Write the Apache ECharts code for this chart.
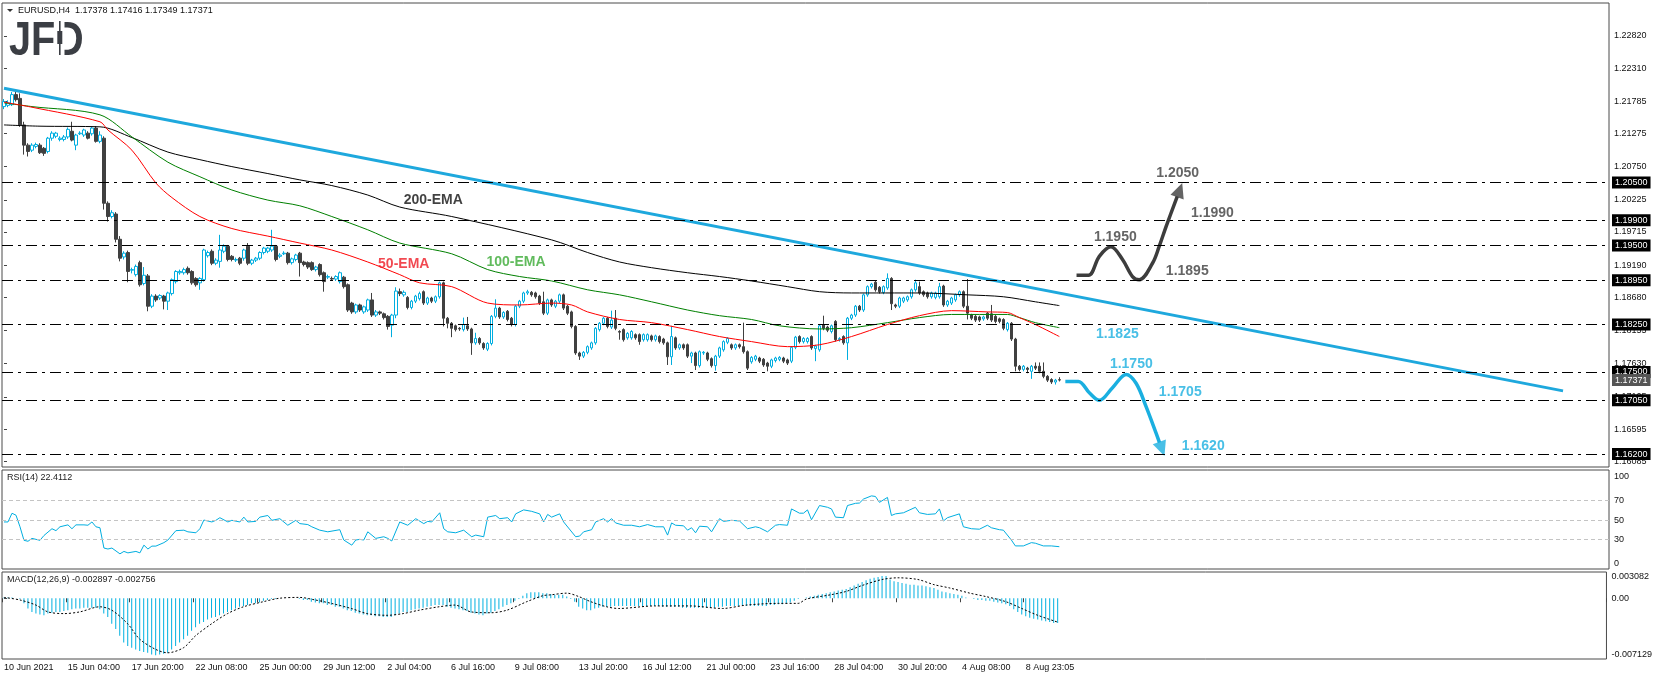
<!DOCTYPE html>
<html>
<head>
<meta charset="utf-8">
<title>EURUSD H4</title>
<script src="https://cdn.jsdelivr.net/npm/echarts@6/dist/echarts.min.js"></script>
<style>
html, body { margin: 0; padding: 0; background: #fff; }
#chart { width: 1655px; height: 680px; }
</style>
</head>
<body>
<div id="chart"></div>
<script>
// time axis: one slot per H4 bar, a date label every 16 bars
var slots = 402
var labelEvery = 16
var timeLabels = ["10 Jun 2021", "15 Jun 04:00", "17 Jun 20:00", "22 Jun 08:00", "25 Jun 00:00", "29 Jun 12:00",
  "2 Jul 04:00", "6 Jul 16:00", "9 Jul 08:00", "13 Jul 20:00", "16 Jul 12:00", "21 Jul 00:00",
  "23 Jul 16:00", "28 Jul 04:00", "30 Jul 20:00", "4 Aug 08:00", "8 Aug 23:05"]

var priceTicks = [1.2282, 1.2231, 1.21785, 1.21275, 1.2075, 1.20225, 1.19715, 1.1919, 1.1868, 1.18155, 1.1763, 1.17105, 1.16595, 1.16085]
var levels = [1.205, 1.199, 1.195, 1.1895, 1.1825, 1.175, 1.1705, 1.162]
var lastPrice = 1.17371

// [open, close, low, high]
var candles = [
  [1.2170,1.2178,1.2166,1.2182],[1.2172,1.2176,1.2169,1.2180],[1.2173,1.2189,1.2171,1.2193],[1.2189,1.2181,1.2178,1.2195],[1.2183,1.2141,1.2138,1.2191],
  [1.2141,1.2109,1.2094,1.2146],[1.2109,1.2099,1.2091,1.2112],[1.2101,1.2109,1.2098,1.2112],[1.2107,1.2110,1.2104,1.2113],[1.2109,1.2097,1.2095,1.2112],
  [1.2104,1.2096,1.2092,1.2106],[1.2099,1.2120,1.2096,1.2122],[1.2120,1.2128,1.2116,1.2131],[1.2123,1.2128,1.2120,1.2130],[1.2118,1.2120,1.2115,1.2123],
  [1.2118,1.2122,1.2115,1.2125],[1.2122,1.2134,1.2119,1.2137],[1.2131,1.2117,1.2115,1.2146],[1.2109,1.2125,1.2101,1.2127],[1.2127,1.2128,1.2125,1.2131],
  [1.2125,1.2133,1.2122,1.2135],[1.2128,1.2120,1.2118,1.2131],[1.2127,1.2136,1.2124,1.2138],[1.2136,1.2115,1.2113,1.2139],[1.2115,1.2125,1.2112,1.2131],
  [1.2120,1.2017,1.2007,1.2123],[1.2017,1.1996,1.1988,1.2020],[1.1996,1.2002,1.1993,1.2006],[1.2000,1.1960,1.1955,1.2003],[1.1960,1.1930,1.1925,1.1965],
  [1.1932,1.1938,1.1928,1.1941],[1.1939,1.1909,1.1892,1.1942],[1.1911,1.1912,1.1906,1.1915],[1.1904,1.1917,1.1901,1.1920],[1.1923,1.1888,1.1885,1.1926],
  [1.1890,1.1903,1.1887,1.1916],[1.1902,1.1854,1.1846,1.1905],[1.1854,1.1870,1.1851,1.1873],[1.1870,1.1864,1.1861,1.1873],[1.1867,1.1871,1.1864,1.1873],
  [1.1870,1.1862,1.1849,1.1872],[1.1862,1.1875,1.1848,1.1877],[1.1874,1.1896,1.1871,1.1898],[1.1893,1.1909,1.1890,1.1911],[1.1907,1.1909,1.1904,1.1912],
  [1.1907,1.1912,1.1904,1.1915],[1.1914,1.1907,1.1904,1.1917],[1.1909,1.1891,1.1888,1.1911],[1.1898,1.1888,1.1885,1.1900],[1.1891,1.1898,1.1880,1.1900],
  [1.1896,1.1943,1.1893,1.1945],[1.1934,1.1939,1.1931,1.1942],[1.1941,1.1922,1.1919,1.1944],[1.1922,1.1927,1.1919,1.1930],[1.1925,1.1943,1.1915,1.1967],
  [1.1941,1.1949,1.1938,1.1952],[1.1949,1.1928,1.1925,1.1951],[1.1933,1.1928,1.1925,1.1935],[1.1927,1.1928,1.1924,1.1931],[1.1930,1.1922,1.1919,1.1932],
  [1.1930,1.1943,1.1926,1.1945],[1.1949,1.1922,1.1919,1.1954],[1.1922,1.1927,1.1919,1.1929],[1.1927,1.1930,1.1924,1.1932],[1.1930,1.1939,1.1927,1.1941],
  [1.1939,1.1946,1.1936,1.1948],[1.1941,1.1946,1.1938,1.1948],[1.1943,1.1949,1.1940,1.1975],[1.1949,1.1928,1.1925,1.1951],[1.1933,1.1935,1.1930,1.1938],
  [1.1937,1.1938,1.1935,1.1941],[1.1938,1.1923,1.1920,1.1940],[1.1923,1.1929,1.1920,1.1931],[1.1928,1.1935,1.1925,1.1937],[1.1938,1.1923,1.1901,1.1940],
  [1.1924,1.1920,1.1917,1.1926],[1.1923,1.1916,1.1913,1.1925],[1.1923,1.1912,1.1910,1.1925],[1.1912,1.1916,1.1909,1.1918],[1.1920,1.1904,1.1901,1.1922],
  [1.1907,1.1893,1.1877,1.1909],[1.1900,1.1901,1.1897,1.1904],[1.1898,1.1897,1.1894,1.1901],[1.1897,1.1901,1.1894,1.1903],[1.1893,1.1907,1.1890,1.1909],
  [1.1900,1.1885,1.1882,1.1902],[1.1888,1.1848,1.1845,1.1890],[1.1859,1.1845,1.1842,1.1861],[1.1845,1.1856,1.1842,1.1858],[1.1856,1.1848,1.1845,1.1858],
  [1.1845,1.1853,1.1842,1.1855],[1.1848,1.1864,1.1845,1.1866],[1.1864,1.1840,1.1837,1.1875],[1.1840,1.1845,1.1837,1.1848],[1.1845,1.1843,1.1840,1.1847],
  [1.1842,1.1836,1.1833,1.1844],[1.1838,1.1822,1.1817,1.1840],[1.1824,1.1840,1.1805,1.1842],[1.1840,1.1878,1.1835,1.1884],[1.1877,1.1874,1.1870,1.1882],
  [1.1872,1.1876,1.1869,1.1879],[1.1868,1.1852,1.1849,1.1870],[1.1852,1.1862,1.1849,1.1864],[1.1862,1.1870,1.1859,1.1872],[1.1866,1.1874,1.1863,1.1877],
  [1.1877,1.1859,1.1856,1.1879],[1.1859,1.1867,1.1856,1.1869],[1.1867,1.1862,1.1859,1.1869],[1.1862,1.1869,1.1859,1.1871],[1.1869,1.1891,1.1866,1.1893],
  [1.1891,1.1835,1.1822,1.1893],[1.1835,1.1827,1.1819,1.1837],[1.1827,1.1819,1.1805,1.1829],[1.1823,1.1817,1.1814,1.1825],[1.1819,1.1818,1.1815,1.1821],
  [1.1817,1.1825,1.1814,1.1836],[1.1823,1.1818,1.1815,1.1837],[1.1818,1.1796,1.1777,1.1820],[1.1796,1.1803,1.1793,1.1812],[1.1803,1.1796,1.1793,1.1805],
  [1.1795,1.1788,1.1785,1.1797],[1.1786,1.1795,1.1783,1.1797],[1.1795,1.1838,1.1792,1.1840],[1.1838,1.1851,1.1835,1.1865],[1.1851,1.1837,1.1834,1.1853],
  [1.1837,1.1844,1.1834,1.1846],[1.1846,1.1833,1.1830,1.1848],[1.1835,1.1825,1.1822,1.1837],[1.1825,1.1854,1.1822,1.1856],[1.1854,1.1862,1.1851,1.1864],
  [1.1862,1.1875,1.1859,1.1877],[1.1875,1.1877,1.1872,1.1880],[1.1876,1.1872,1.1869,1.1878],[1.1875,1.1869,1.1866,1.1877],[1.1870,1.1859,1.1856,1.1872],
  [1.1861,1.1843,1.1840,1.1877],[1.1843,1.1864,1.1840,1.1866],[1.1864,1.1856,1.1853,1.1866],[1.1854,1.1862,1.1851,1.1864],[1.1862,1.1872,1.1859,1.1874],
  [1.1872,1.1851,1.1848,1.1874],[1.1854,1.1843,1.1840,1.1856],[1.1845,1.1822,1.1819,1.1847],[1.1822,1.1780,1.1777,1.1824],[1.1780,1.1775,1.1769,1.1782],
  [1.1775,1.1781,1.1772,1.1783],[1.1781,1.1790,1.1778,1.1792],[1.1788,1.1796,1.1785,1.1798],[1.1796,1.1819,1.1793,1.1821],[1.1817,1.1827,1.1814,1.1829],
  [1.1827,1.1835,1.1824,1.1837],[1.1835,1.1822,1.1819,1.1837],[1.1821,1.1832,1.1818,1.1847],[1.1835,1.1819,1.1816,1.1848],[1.1814,1.1813,1.1801,1.1816],
  [1.1817,1.1801,1.1798,1.1819],[1.1804,1.1811,1.1801,1.1813],[1.1804,1.1814,1.1801,1.1816],[1.1809,1.1804,1.1801,1.1811],[1.1809,1.1798,1.1793,1.1811],
  [1.1801,1.1809,1.1798,1.1811],[1.1801,1.1809,1.1798,1.1811],[1.1807,1.1801,1.1798,1.1809],[1.1801,1.1807,1.1798,1.1809],[1.1806,1.1798,1.1795,1.1808],
  [1.1802,1.1796,1.1793,1.1804],[1.1796,1.1774,1.1761,1.1798],[1.1774,1.1806,1.1761,1.1823],[1.1804,1.1788,1.1785,1.1806],[1.1788,1.1793,1.1785,1.1795],
  [1.1793,1.1788,1.1785,1.1795],[1.1793,1.1775,1.1772,1.1795],[1.1775,1.1780,1.1764,1.1782],[1.1780,1.1760,1.1753,1.1782],[1.1760,1.1782,1.1757,1.1784],
  [1.1780,1.1781,1.1777,1.1783],[1.1780,1.1770,1.1767,1.1782],[1.1771,1.1760,1.1757,1.1773],[1.1760,1.1775,1.1752,1.1777],[1.1775,1.1788,1.1772,1.1790],
  [1.1785,1.1798,1.1782,1.1800],[1.1797,1.1803,1.1794,1.1805],[1.1793,1.1788,1.1785,1.1795],[1.1788,1.1793,1.1785,1.1795],[1.1793,1.1790,1.1787,1.1795],
  [1.1790,1.1782,1.1779,1.1828],[1.1782,1.1756,1.1753,1.1784],[1.1766,1.1773,1.1763,1.1775],[1.1770,1.1775,1.1767,1.1777],[1.1772,1.1767,1.1764,1.1774],
  [1.1770,1.1761,1.1758,1.1772],[1.1764,1.1759,1.1751,1.1766],[1.1759,1.1769,1.1756,1.1771],[1.1768,1.1772,1.1765,1.1774],[1.1770,1.1773,1.1767,1.1775],
  [1.1772,1.1767,1.1764,1.1774],[1.1769,1.1764,1.1761,1.1771],[1.1767,1.1789,1.1764,1.1791],[1.1789,1.1805,1.1786,1.1807],[1.1806,1.1798,1.1795,1.1808],
  [1.1798,1.1803,1.1795,1.1805],[1.1798,1.1803,1.1795,1.1805],[1.1806,1.1788,1.1785,1.1808],[1.1787,1.1791,1.1767,1.1793],[1.1785,1.1823,1.1782,1.1825],
  [1.1825,1.1819,1.1816,1.1839],[1.1821,1.1816,1.1813,1.1823],[1.1814,1.1823,1.1811,1.1825],[1.1830,1.1801,1.1798,1.1832],[1.1801,1.1803,1.1798,1.1805],
  [1.1806,1.1796,1.1793,1.1808],[1.1796,1.1835,1.1769,1.1837],[1.1835,1.1840,1.1832,1.1842],[1.1840,1.1854,1.1837,1.1856],[1.1854,1.1848,1.1845,1.1856],
  [1.1848,1.1872,1.1845,1.1874],[1.1872,1.1885,1.1869,1.1887],[1.1885,1.1889,1.1882,1.1891],[1.1892,1.1880,1.1877,1.1894],[1.1884,1.1877,1.1874,1.1886],
  [1.1876,1.1885,1.1873,1.1887],[1.1883,1.1898,1.1880,1.1906],[1.1898,1.1858,1.1848,1.1900],[1.1856,1.1854,1.1851,1.1858],[1.1854,1.1867,1.1851,1.1869],
  [1.1862,1.1867,1.1859,1.1869],[1.1864,1.1869,1.1861,1.1871],[1.1869,1.1880,1.1866,1.1882],[1.1880,1.1891,1.1877,1.1896],[1.1885,1.1875,1.1872,1.1893],
  [1.1877,1.1872,1.1869,1.1879],[1.1875,1.1869,1.1866,1.1877],[1.1869,1.1875,1.1866,1.1877],[1.1868,1.1875,1.1865,1.1877],[1.1869,1.1885,1.1866,1.1891],
  [1.1886,1.1856,1.1853,1.1888],[1.1856,1.1862,1.1853,1.1864],[1.1859,1.1867,1.1856,1.1869],[1.1864,1.1872,1.1861,1.1874],[1.1872,1.1877,1.1869,1.1879],
  [1.1877,1.1854,1.1851,1.1879],[1.1854,1.1843,1.1833,1.1897],[1.1840,1.1835,1.1832,1.1842],[1.1838,1.1832,1.1829,1.1840],[1.1837,1.1832,1.1829,1.1839],
  [1.1834,1.1837,1.1831,1.1839],[1.1843,1.1835,1.1832,1.1845],[1.1842,1.1832,1.1829,1.1856],[1.1838,1.1830,1.1827,1.1840],[1.1834,1.1830,1.1827,1.1836],
  [1.1833,1.1819,1.1816,1.1835],[1.1817,1.1827,1.1814,1.1829],[1.1827,1.1802,1.1799,1.1829],[1.1802,1.1759,1.1751,1.1804],[1.1759,1.1754,1.1751,1.1761],
  [1.1754,1.1759,1.1751,1.1761],[1.1756,1.1754,1.1748,1.1758],[1.1751,1.1759,1.1739,1.1761],[1.1759,1.1756,1.1753,1.1765],[1.1759,1.1751,1.1748,1.1765],
  [1.1751,1.1743,1.1740,1.1765],[1.1743,1.1737,1.1734,1.1745],[1.1738,1.1734,1.1731,1.1740],[1.1734,1.1737,1.1730,1.1739],[1.17378,1.17371,1.17349,1.17416]
]

// moving averages as [bar, price]
var ema50 = [[0,1.2177],[7,1.2169],[24,1.2146],[26,1.2133],[32,1.2101],[38,1.2049],[42,1.2026],[49,1.1996],[57,1.1977],[66,1.1965],
  [74,1.1954],[82,1.1943],[91,1.1924],[99,1.1904],[104,1.1891],[112,1.1885],[121,1.1859],[129,1.1856],[137,1.1859],[142,1.1856],
  [146,1.1845],[154,1.1833],[162,1.1828],[171,1.1817],[179,1.1806],[187,1.1798],[196,1.1790],[204,1.1793],[212,1.1806],[221,1.1825],
  [229,1.1839],[237,1.1847],[246,1.1845],[251,1.1844],[254,1.1836],[258,1.1825],[264,1.1806]]
var ema100 = [[0,1.2176],[7,1.2170],[24,1.2157],[32,1.2122],[41,1.2082],[49,1.2059],[57,1.2038],[66,1.2022],[74,1.2013],[82,1.1996],
  [91,1.1975],[99,1.1954],[112,1.1937],[121,1.1912],[129,1.1901],[137,1.1894],[146,1.1880],[154,1.1872],[162,1.1861],[171,1.1848],
  [179,1.1839],[187,1.1833],[194,1.1823],[204,1.1818],[212,1.1820],[221,1.1828],[229,1.1836],[237,1.1841],[251,1.1841],[254,1.1836],
  [258,1.1828],[264,1.1820]]
var ema200 = [[0,1.2141],[9,1.2139],[24,1.2138],[32,1.2121],[41,1.2098],[49,1.2086],[57,1.2075],[66,1.2064],[74,1.2054],[82,1.2045],
  [91,1.2030],[99,1.2011],[112,1.1996],[137,1.1959],[146,1.1939],[154,1.1924],[162,1.1915],[171,1.1907],[179,1.1901],[187,1.1894],
  [196,1.1885],[204,1.1877],[212,1.1875],[229,1.1875],[241,1.1872],[250,1.1869],[258,1.1861],[264,1.1855]]

var trendLine = [[0,1.2199],[390,1.1720]]

// scenario sketches [bar, price]
var upPath = [[268.3,1.1903],[271.3,1.1903],[274,1.1933],[276.9,1.1948],[279.8,1.1928],[282.3,1.1901],[284,1.1896],
  [287.3,1.1922],[289,1.1949],[290.7,1.1980],[293.5,1.2028]]
var upArrow = [294.1, 1.2038]
var downPath = [[265.5,1.1735],[268.75,1.1735],[271.5,1.1717],[274,1.1705],[277.3,1.1725],[280.7,1.1746],[283.2,1.1732],
  [285.7,1.1695],[288.2,1.1653],[289.05,1.1638]]
var downArrow = [289.65, 1.1628]
var upNotes = [[293.6,1.2064,"1.2050"],[302.3,1.2002,"1.1990"],[278,1.1963,"1.1950"],[296,1.1909,"1.1895"]]
var downNotes = [[278.5,1.1810,"1.1825"],[282,1.1763,"1.1750"],[294.25,1.1718,"1.1705"],[300,1.1632,"1.1620"]]
var emaNotes = [[107.4,1.2022,"200-EMA"],[100,1.1920,"50-EMA"],[128.1,1.1924,"100-EMA"]]
var emaNoteColors = ["#111111", "#ee1c25", "#3aaa35"]

var rsi = [[0,48],[1,48],[2,57],[3,55],[4,43],[5,29],[6,28],[7,31],[8,30],[9,29],[10,34],[12,41],[13,39],[14,43],[16,45],[17,41],
  [18,45],[20,45],[21,44.6],[22,48],[23,43],[24,42],[25,21],[26,20],[27,21],[29,15],[30,17.5],[31,16],[33,17.5],[34,16],[35,24],
  [36,20],[37,23],[38,23],[40,26.6],[41,29.3],[43,39],[45,39.5],[46,37.8],[48,36.8],[49,41],[50,50],[52,48],[53,49.7],[54,52.4],
  [56,48],[57,49.7],[59,48],[60,53],[61,48],[63,48.6],[64,53],[66,54.7],[67,49.7],[69,51.4],[71,44.6],[73,49.7],[74,46.3],[76,45.3],
  [77,43],[79,39.5],[81,37.8],[84,40],[85,29.3],[87,24],[88,29.3],[89,30],[90,29.3],[91,37.8],[93,31],[95,32.7],[96,31],[97,28.3],
  [99,48],[101,44.6],[102,48],[103,51.4],[105,46.3],[106,48.6],[107,48],[109,57.5],[110,41],[111,37.8],[113,36.8],[115,39.5],
  [117,32.7],[118,34.4],[120,32.7],[121,53],[123,54.7],[124,51.4],[126,52.4],[127,48],[128,56.4],[130,60.5],[132,59],[134,56.4],
  [135,48],[136,55.8],[137,53],[139,56.4],[140,48],[143,32.7],[144,33.4],[145,37.8],[147,40],[148,48],[150,51.4],[151,48],[152,51.4],
  [153,47],[155,44.6],[157,44.6],[159,43],[161,45.3],[163,43],[165,43],[166,34.4],[167,47],[168,44.6],[170,44],[171,39.5],[172,42],
  [173,36.8],[174,43.6],[176,43],[177,37.8],[179,51.4],[180,48.6],[182,49.7],[184,49],[186,41],[188,43],[189,42],[191,37.8],[193,44.6],
  [194,45.3],[196,44.6],[197,61.5],[199,57.1],[200,57.1],[201,60.5],[202,50.3],[204,65],[206,63.2],[207,61.5],[208,53],[210,52.4],
  [211,65],[213,67.3],[214,67.6],[215,71.7],[217,75],[218,74.4],[219,68.3],[221,73.4],[222,54.7],[223,56.4],[225,57.5],[228,63.2],
  [229,57.5],[231,55.8],[233,56.4],[234,61.5],[235,49],[236,52.4],[239,56.4],[240,43],[242,41],[244,40.5],[246,44.6],[247,42],
  [249,40],[250,39.5],[252,29.3],[253,23.2],[255,23.2],[257,26.6],[258,26],[260,23.2],[262,23.2],[264,22.4]]
var rsiLevels = [30, 50, 70]

var macd = [
  0.0001,0.0001,0.0001,0.0000,-0.0001,-0.0006,-0.0012,-0.0016,-0.0018,-0.0019,
  -0.0020,-0.0018,-0.0017,-0.0016,-0.0016,-0.0015,-0.0014,-0.0013,-0.0012,-0.0012,
  -0.0011,-0.0011,-0.0011,-0.0011,-0.0013,-0.0018,-0.0022,-0.0030,-0.0036,-0.0044,
  -0.0052,-0.0056,-0.0058,-0.0060,-0.0062,-0.0063,-0.0064,-0.0066,-0.0067,-0.0066,
  -0.0065,-0.0064,-0.0060,-0.0056,-0.0052,-0.0048,-0.0044,-0.0038,-0.0034,-0.0030,
  -0.0028,-0.0025,-0.0023,-0.0022,-0.0020,-0.0018,-0.0016,-0.0014,-0.0012,-0.0010,
  -0.0009,-0.0008,-0.0006,-0.0006,-0.0005,-0.0003,-0.0002,-0.0001,-0.0001,0.0000,
  0.0000,0.0000,0.0000,0.0000,-0.0001,-0.0002,-0.0002,-0.0004,-0.0005,-0.0006,
  -0.0006,-0.0008,-0.0008,-0.0010,-0.0010,-0.0012,-0.0014,-0.0015,-0.0017,-0.0018,
  -0.0019,-0.0020,-0.0020,-0.0021,-0.0021,-0.0022,-0.0022,-0.0022,-0.0020,-0.0018,
  -0.0016,-0.0016,-0.0014,-0.0013,-0.0012,-0.0011,-0.0010,-0.0009,-0.0008,-0.0008,
  -0.0008,-0.0010,-0.0011,-0.0012,-0.0013,-0.0014,-0.0015,-0.0017,-0.0018,-0.0019,
  -0.0020,-0.0018,-0.0017,-0.0015,-0.0013,-0.0010,-0.0008,-0.0006,-0.0003,-0.0001,
  0.0003,0.0006,0.0007,0.0007,0.0007,0.0006,0.0006,0.0005,0.0004,0.0004,
  0.0004,0.0002,-0.0001,-0.0004,-0.0010,-0.0012,-0.0014,-0.0014,-0.0012,-0.0011,
  -0.0010,-0.0010,-0.0010,-0.0009,-0.0009,-0.0009,-0.0009,-0.0009,-0.0009,-0.0009,
  -0.0009,-0.0009,-0.0009,-0.0009,-0.0009,-0.0010,-0.0010,-0.0010,-0.0010,-0.0010,
  -0.0011,-0.0011,-0.0011,-0.0011,-0.0011,-0.0011,-0.0011,-0.0011,-0.0011,-0.0010,
  -0.0010,-0.0009,-0.0009,-0.0009,-0.0009,-0.0008,-0.0009,-0.0009,-0.0009,-0.0009,
  -0.0009,-0.0009,-0.0008,-0.0008,-0.0007,-0.0007,-0.0006,-0.0005,-0.0003,-0.0001,
  0.0000,0.0001,0.0002,0.0003,0.0004,0.0005,0.0006,0.0007,0.0008,0.0009,
  0.0010,0.0011,0.0013,0.0015,0.0017,0.0019,0.0021,0.0023,0.0024,0.0025,
  0.0026,0.0026,0.0022,0.0020,0.0019,0.0018,0.0017,0.0016,0.0016,0.0015,
  0.0015,0.0014,0.0013,0.0012,0.0010,0.0008,0.0007,0.0006,0.0005,0.0004,
  0.0003,0.0001,0.0000,-0.0001,-0.0002,-0.0002,-0.0003,-0.0003,-0.0004,-0.0005,
  -0.0006,-0.0007,-0.0009,-0.0013,-0.0016,-0.0019,-0.0021,-0.0023,-0.0024,-0.0025,
  -0.0026,-0.0027,-0.0028,-0.0029,-0.0029]
var signal = [[0,0.0001],[4,-0.0002],[8,-0.0008],[11,-0.0016],[15,-0.0018],[19,-0.0016],[24,-0.0010],[27,-0.0014],[31,-0.0030],
  [34,-0.0048],[38,-0.0060],[41,-0.0064],[45,-0.0058],[48,-0.0044],[52,-0.0030],[56,-0.0018],[60,-0.0010],[65,-0.0004],[69,0.0000],
  [74,0.0001],[78,-0.0002],[82,-0.0006],[87,-0.0012],[91,-0.0018],[96,-0.0020],[100,-0.0018],[104,-0.0014],[109,-0.0010],[113,-0.0008],
  [117,-0.0016],[122,-0.0017],[126,-0.0014],[131,-0.0004],[135,0.0003],[137,0.0004],[141,0.0006],[144,0.0002],[147,-0.0004],
  [151,-0.0010],[154,-0.0012],[163,-0.0009],[172,-0.0009],[180,-0.0012],[186,-0.0008],[194,-0.0006],[199,-0.0006],[201,-0.0001],
  [207,0.0004],[211,0.0008],[215,0.0015],[220,0.0022],[224,0.0024],[229,0.0022],[233,0.0016],[237,0.0012],[242,0.0006],[246,0.0002],
  [251,-0.0004],[255,-0.0012],[259,-0.0020],[264,-0.0028]]

var font = "Liberation Sans"
var teal = "#1aafe0"
var dark = "#3d3d3d"
var logoGrey = "#3b3e44"

var cats = []
for (var i = 0; i < slots; i++) {
  var k = i / labelEvery
  cats.push(i % labelEvery === 0 && timeLabels[k] ? timeLabels[k] : "")
}
function hasLabel(index, value) { return value !== "" }

var myChart = echarts.init(document.getElementById("chart"))

function noteSeries(list, color) {
  return {
    type: "scatter", xAxisIndex: 1, yAxisIndex: 0, symbolSize: 0, silent: true, z: 5,
    data: list.map(function (n) { return [n[0], n[1], n[2]] }),
    label: {
      show: true, position: "inside", formatter: function (p) { return p.value[2] },
      fontFamily: font, fontWeight: "bold", fontSize: 14, color: color
    }
  }
}

var option = {
  animation: false,
  backgroundColor: "#ffffff",
  textStyle: { fontFamily: font },
  grid: [
    { left: 2, top: 3, width: 1607, height: 464, show: true, borderColor: "#4a4a4a", borderWidth: 1 },
    { left: 2, top: 470, width: 1607, height: 99, show: true, borderColor: "#4a4a4a", borderWidth: 1 },
    { left: 2, top: 572, width: 1607, height: 87, show: true, borderColor: "#4a4a4a", borderWidth: 1 }
  ],
  xAxis: [
    { type: "category", gridIndex: 0, data: cats, boundaryGap: true, show: false },
    { type: "value", gridIndex: 0, min: -0.5, max: slots - 0.5, show: false },
    { type: "value", gridIndex: 1, min: -0.5, max: slots - 0.5, show: false },
    {
      type: "category", gridIndex: 2, data: cats, boundaryGap: true,
      axisLine: { show: false },
      axisTick: { show: true, interval: hasLabel, length: 4, lineStyle: { color: "#444" } },
      axisLabel: { interval: hasLabel, align: "left", margin: 4, fontSize: 9, color: "#111", fontFamily: font }
    },
    { type: "value", gridIndex: 2, min: -0.5, max: slots - 0.5, show: false }
  ],
  yAxis: [
    {
      type: "value", gridIndex: 0, position: "right", min: 1.15995, max: 1.2334, scale: true,
      splitLine: { show: false }, axisLine: { show: false },
      axisTick: { show: true, length: 3, lineStyle: { color: "#444" }, customValues: priceTicks },
      axisLabel: { customValues: priceTicks, margin: 5, fontSize: 9, color: "#111", fontFamily: font,
        formatter: function (v) { return v.toFixed(5) } }
    },
    {
      type: "value", gridIndex: 1, position: "right", min: -0.7, max: 101.8,
      splitLine: { show: false }, axisLine: { show: false }, axisTick: { show: false },
      axisLabel: { customValues: [0, 30, 50, 70, 100], margin: 5, fontSize: 9, color: "#111", fontFamily: font,
        verticalAlignMinLabel: "bottom", verticalAlignMaxLabel: "top" }
    },
    {
      type: "value", gridIndex: 2, position: "right", min: -0.007129, max: 0.003082,
      splitLine: { show: false }, axisLine: { show: false },
      axisTick: { show: true, length: 3, lineStyle: { color: "#444" }, customValues: [0] },
      axisLabel: { customValues: [-0.007129, 0, 0.003082], margin: 5, fontSize: 9, color: "#111", fontFamily: font,
        verticalAlignMinLabel: "bottom", verticalAlignMaxLabel: "top",
        formatter: function (v) { return v === 0 ? "0.00" : v.toFixed(6) } }
    }
  ],
  series: [
    {
      name: "EURUSD", type: "candlestick", xAxisIndex: 0, yAxisIndex: 0,
      data: candles, barWidth: 3,
      itemStyle: { color: "#ffffff", color0: "#404040", borderColor: "#00aee0", borderColor0: "#404040", borderColorDoji: "#404040", borderWidth: 1 }
    },
    { name: "200-EMA", type: "line", xAxisIndex: 1, yAxisIndex: 0, data: ema200, showSymbol: false, smooth: 0.3, lineStyle: { color: "#000000", width: 1 } },
    { name: "100-EMA", type: "line", xAxisIndex: 1, yAxisIndex: 0, data: ema100, showSymbol: false, smooth: 0.3, lineStyle: { color: "#008000", width: 1 } },
    { name: "50-EMA", type: "line", xAxisIndex: 1, yAxisIndex: 0, data: ema50, showSymbol: false, smooth: 0.3, lineStyle: { color: "#ff0000", width: 1 } },
    {
      name: "trend", type: "line", xAxisIndex: 1, yAxisIndex: 0, data: trendLine, showSymbol: false,
      lineStyle: { color: "#1ea8dd", width: 3 }, z: 3,
      markLine: {
        symbol: "none", silent: true, animation: false, precision: 5,
        lineStyle: { color: "#000000", width: 1, type: [11, 5, 3, 5] },
        label: { position: "end", distance: 3, backgroundColor: "#000000", color: "#ffffff", fontSize: 9, fontFamily: font,
          padding: [2, 3, 1, 3], formatter: function (p) { return Number(p.value).toFixed(5) } },
        data: levels.map(function (v) { return { yAxis: v } }).concat([
          { yAxis: lastPrice, lineStyle: { color: "rgba(0,0,0,0)" }, label: { backgroundColor: "#555555" } }
        ])
      }
    },
    { name: "up", type: "line", xAxisIndex: 1, yAxisIndex: 0, data: upPath, showSymbol: false, smooth: 0.35, z: 4,
      lineStyle: { color: dark, width: 3.5 } },
    { name: "upArrow", type: "scatter", xAxisIndex: 1, yAxisIndex: 0, data: [upArrow], symbol: "triangle",
      symbolSize: [14, 15], symbolRotate: -20, itemStyle: { color: dark }, z: 4 },
    { name: "down", type: "line", xAxisIndex: 1, yAxisIndex: 0, data: downPath, showSymbol: false, smooth: 0.35, z: 4,
      lineStyle: { color: teal, width: 3.5 } },
    { name: "downArrow", type: "scatter", xAxisIndex: 1, yAxisIndex: 0, data: [downArrow], symbol: "triangle",
      symbolSize: [14, 15], symbolRotate: 200, itemStyle: { color: teal }, z: 4 },
    noteSeries(upNotes, dark),
    noteSeries(downNotes, teal),
    noteSeries([emaNotes[0]], emaNoteColors[0]),
    noteSeries([emaNotes[1]], emaNoteColors[1]),
    noteSeries([emaNotes[2]], emaNoteColors[2]),
    {
      name: "RSI", type: "line", xAxisIndex: 2, yAxisIndex: 1, data: rsi, showSymbol: false,
      lineStyle: { color: "#00aee0", width: 1 },
      markLine: {
        symbol: "none", silent: true, label: { show: false },
        lineStyle: { color: "#c4c4c4", width: 1, type: [4, 3] },
        data: rsiLevels.map(function (v) { return { yAxis: v } })
      }
    },
    { name: "MACD", type: "bar", xAxisIndex: 3, yAxisIndex: 2, data: macd, barWidth: 1, itemStyle: { color: "#00b0e0" } },
    { name: "Signal", type: "line", xAxisIndex: 4, yAxisIndex: 2, data: signal, showSymbol: false, smooth: 0.3,
      lineStyle: { color: "#000000", width: 1, type: [2, 2] }, z: 3 }
  ],
  graphic: [
    { type: "polygon", shape: { points: [[7, 9], [13, 9], [10, 12]] }, style: { fill: "#333" } },
    { type: "text", x: 18, y: 6, style: { text: "EURUSD,H4  1.17378 1.17416 1.17349 1.17371", font: "9px 'Liberation Sans'", fill: "#111" } },
    // logo: "JF" + a "D" whose stem is a candlestick
    { type: "text", x: 9, y: 17, scaleX: 0.81, style: { text: "JF", font: "bold 49px 'Liberation Sans'", fill: logoGrey } },
    { type: "text", x: 55, y: 17, scaleX: 0.81, style: { text: "D", font: "bold 49px 'Liberation Sans'", fill: logoGrey } },
    { type: "rect", shape: { x: 56, y: 14, width: 8.5, height: 46 }, style: { fill: "#ffffff" } },
    { type: "rect", shape: { x: 59, y: 21, width: 1.6, height: 34 }, style: { fill: logoGrey } },
    { type: "rect", shape: { x: 57.3, y: 31, width: 5, height: 13 }, style: { fill: logoGrey } },
    { type: "text", x: 7, y: 473, style: { text: "RSI(14) 22.4112", font: "9px 'Liberation Sans'", fill: "#222" } },
    { type: "text", x: 7, y: 575, style: { text: "MACD(12,26,9) -0.002897 -0.002756", font: "9px 'Liberation Sans'", fill: "#222" } }
  ]
}
myChart.setOption(option)
</script>
</body>
</html>
